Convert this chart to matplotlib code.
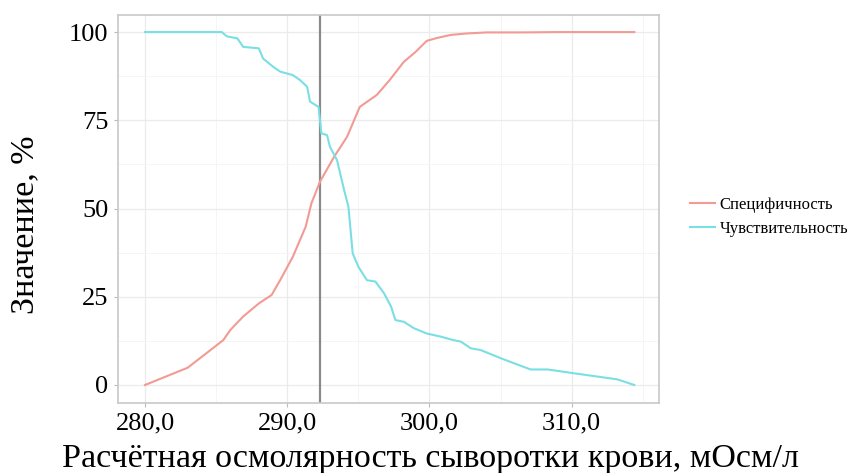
import matplotlib
matplotlib.use("Agg")
import matplotlib.pyplot as plt
from matplotlib.ticker import FixedLocator, FuncFormatter

# --- DATA ---
spec_x = [280.0, 283.0, 285.5, 286.0, 286.9, 288.0, 288.9, 289.5, 290.4, 291.3, 291.7,
          292.3, 293.3, 294.2, 295.1, 296.3, 297.2, 298.2, 299.0, 299.8, 300.5, 301.5,
          302.6, 304.0, 306.5, 309.0, 312.0, 314.4]
spec_y = [0.0, 4.9, 12.7, 15.6, 19.4, 23.1, 25.5, 29.7, 36.4, 44.9, 51.5,
          57.6, 64.7, 70.3, 78.8, 82.2, 86.4, 91.6, 94.3, 97.5, 98.3, 99.2,
          99.6, 99.9, 99.9, 100.0, 100.0, 100.0]

sens_x = [280.0, 285.4, 285.75, 286.5, 286.9, 288.0, 288.3, 289.0, 289.5, 290.4, 290.9,
          291.4, 291.6, 292.2, 292.4, 292.8, 293.0, 293.5, 294.0, 294.3, 294.6, 295.0,
          295.6, 296.2, 296.8, 297.3, 297.6, 298.2, 298.9, 299.8, 300.8, 301.7, 302.2,
          302.9, 303.6, 305.0, 307.1, 308.3, 310.2, 313.2, 314.4]
sens_y = [100.0, 100.0, 98.8, 98.2, 95.8, 95.4, 92.5, 90.2, 88.8, 87.8, 86.4,
          84.5, 80.3, 78.8, 71.3, 70.8, 67.5, 63.7, 55.2, 50.5, 37.3, 33.5,
          29.7, 29.3, 26.0, 22.2, 18.4, 17.9, 16.1, 14.6, 13.7, 12.7, 12.3,
          10.4, 9.9, 7.6, 4.4, 4.4, 3.3, 1.6, 0.0]

cutoff = 292.3
x_ticks = [280, 290, 300, 310]
y_ticks = [0, 25, 50, 75, 100]
labels = ["Специфичность", "Чувствительность"]

# --- PLOT ---
plt.rcParams["font.family"] = ["Liberation Serif", "DejaVu Serif"]

fig = plt.figure(figsize=(8.58, 4.73), dpi=100)
ax = fig.add_axes([0.1375, 0.148, 0.63, 0.82])

red = "#F29A94"
cyan = "#7ADFE4"
ax.plot(spec_x, spec_y, color=red, lw=1.5, label=labels[0], zorder=3)
ax.plot(sens_x, sens_y, color=cyan, lw=1.5, label=labels[1], zorder=3)
ax.axvline(cutoff, color="#8A8A8A", lw=1.6, zorder=2)

ax.set_xlim(278.1, 316.1)
ax.set_ylim(-5.1, 104.8)
ax.xaxis.set_major_locator(FixedLocator(x_ticks))
ax.yaxis.set_major_locator(FixedLocator(y_ticks))
ax.xaxis.set_minor_locator(FixedLocator([285, 295, 305, 315]))
ax.yaxis.set_minor_locator(FixedLocator([12.5, 37.5, 62.5, 87.5]))
ax.xaxis.set_major_formatter(FuncFormatter(lambda v, p: f"{v:.1f}".replace(".", ",")))

ax.grid(which="major", color="#EBEBEB", lw=0.9)
ax.grid(which="minor", color="#F4F4F4", lw=0.6)
ax.set_axisbelow(True)
for s in ax.spines.values():
    s.set_color("#C8C8C8")
    s.set_linewidth(1.2)
ax.tick_params(which="major", length=3, color="#BBBBBB", labelsize=19, pad=4)
ax.tick_params(which="minor", length=0)

fig.text(0.502, 0.030, "Расчётная осмолярность сыворотки крови, мОсм/л",
         fontsize=24.5, ha="center", va="center")
fig.text(0.029, 0.524, "Значение, %", fontsize=24.5, rotation=90, ha="center", va="center")

leg = ax.legend(loc="center left", bbox_to_anchor=(0.795, 0.541), bbox_transform=fig.transFigure,
                frameon=False, fontsize=12, handlelength=1.5, handletextpad=0.25,
                labelspacing=0.5, borderpad=0)

fig.savefig("out.png", dpi=100)
